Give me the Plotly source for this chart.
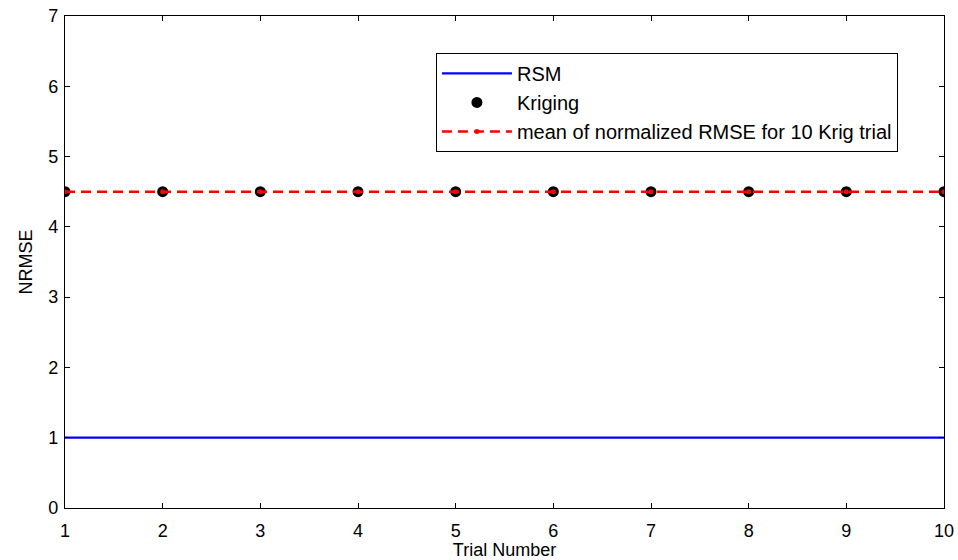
import plotly.graph_objects as go

# Trial index and normalized RMSE per trial
trials = [1, 2, 3, 4, 5, 6, 7, 8, 9, 10]
rsm_nrmse = [1.0, 1.0, 1.0, 1.0, 1.0, 1.0, 1.0, 1.0, 1.0, 1.0]
kriging_nrmse = [4.5, 4.5, 4.5, 4.5, 4.5, 4.5, 4.5, 4.5, 4.5, 4.5]
kriging_mean = [4.5, 4.5, 4.5, 4.5, 4.5, 4.5, 4.5, 4.5, 4.5, 4.5]

x_ticks = [1, 2, 3, 4, 5, 6, 7, 8, 9, 10]
y_ticks = [0, 1, 2, 3, 4, 5, 6, 7]

FONT = "Liberation Sans, Arial, sans-serif"

fig = go.Figure()

fig.add_trace(go.Scatter(
    x=trials, y=rsm_nrmse, mode="lines", name="RSM",
    line=dict(color="#0000ff", width=2.2),
))
fig.add_trace(go.Scatter(
    x=trials, y=kriging_nrmse, mode="markers", name="Kriging",
    marker=dict(color="black", size=11, symbol="circle"),
))
fig.add_trace(go.Scatter(
    x=trials, y=kriging_mean, mode="lines+markers",
    name="mean of normalized RMSE for 10 Krig trial",
    line=dict(color="#ff0000", width=2.5, dash="10px,6px"),
    marker=dict(color="#ff0000", size=5, symbol="circle"),
))

axis_common = dict(
    showline=True, linecolor="black", linewidth=1.3, mirror="ticks",
    ticks="inside", ticklen=5, tickcolor="black", tickwidth=1,
    showgrid=False, zeroline=False, automargin=False,
    tickfont=dict(family=FONT, size=18, color="black"),
)

fig.update_xaxes(
    range=[1, 10], tickvals=x_ticks, ticklabelstandoff=6, **axis_common,
    title=dict(text="Trial Number", font=dict(family=FONT, size=18, color="black"),
               standoff=6),
)
fig.update_yaxes(
    range=[0, 7], tickvals=y_ticks, ticklabelstandoff=2, **axis_common,
    title=dict(text="NRMSE", font=dict(family=FONT, size=18, color="black"),
               standoff=10),
)

fig.update_layout(
    width=958, height=560,
    margin=dict(l=65, r=14, t=16, b=52),
    paper_bgcolor="white", plot_bgcolor="white",
    font=dict(family=FONT, size=18, color="black"),
    legend=dict(
        x=0.422, y=0.925, xanchor="left", yanchor="top",
        bgcolor="white", bordercolor="black", borderwidth=1,
        font=dict(family=FONT, size=20, color="black"),
        itemwidth=70, tracegroupgap=0, entrywidth=470,
    ),
)

fig.write_html("out.html")
